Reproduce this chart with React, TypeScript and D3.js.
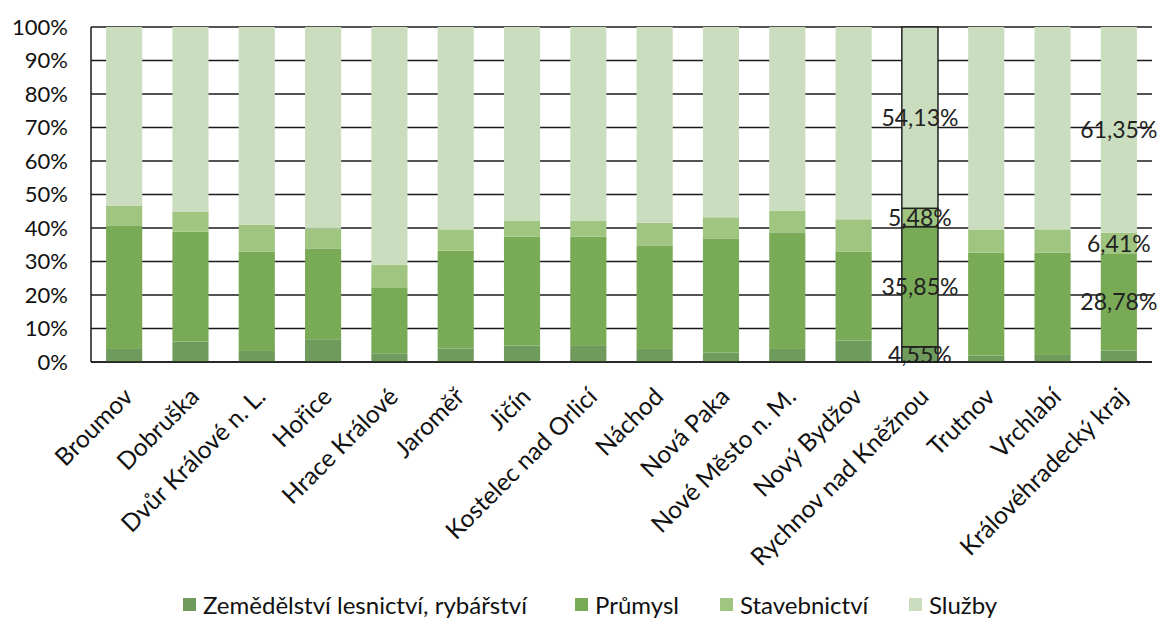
import React from "react";
import * as d3 from "d3";

const categories = [
  "Broumov", "Dobruška", "Dvůr Králové n. L.", "Hořice", "Hrace Králové", "Jaroměř",
  "Jičín", "Kostelec nad Orlicí", "Náchod", "Nová Paka", "Nové Město n. M.", "Nový Bydžov",
  "Rychnov nad Kněžnou", "Trutnov", "Vrchlabí", "Královéhradecký kraj",
];
const agriculture = [3.9, 6.1, 3.3, 6.8, 2.6, 4.0, 4.9, 4.8, 3.9, 2.8, 3.9, 6.4, 4.55, 1.9, 2.1, 3.46];
const industry = [36.9, 32.8, 29.6, 27.1, 19.7, 29.2, 32.5, 32.6, 30.9, 34.1, 34.8, 26.6, 35.85, 30.7, 30.5, 28.78];
const construction = [5.8, 5.9, 8.1, 5.9, 6.7, 6.4, 4.8, 4.7, 6.8, 6.3, 6.5, 9.6, 5.48, 6.8, 7.0, 6.41];
const services = [53.4, 55.2, 59.0, 60.2, 71.0, 60.4, 57.8, 57.9, 58.4, 56.8, 54.8, 57.4, 54.13, 60.6, 60.4, 61.35];
const seriesNames = ["Zemědělství lesnictví, rybářství", "Průmysl", "Stavebnictví", "Služby"];
const seriesColors = ["#6f9b5c", "#79aa56", "#9fc580", "#cbddbf"];
const yTicks = [0, 10, 20, 30, 40, 50, 60, 70, 80, 90, 100];
// which bars carry data labels (index -> series indices labelled)
const labelledBars: Record<number, number[]> = { 12: [0, 1, 2, 3], 15: [1, 2, 3] };
const highlighted = 12;

const W = 1158, H = 624;
const left = 91, right = 1152, top = 27, bottom = 362;
const font = "Lato, 'Open Sans', sans-serif";

export default function App() {
  const x = d3.scaleBand<string>().domain(categories).range([left, right]).paddingInner(0.455).paddingOuter(0.2275);
  const y = d3.scaleLinear().domain([0, 100]).range([bottom, top]);
  const rows = categories.map((c, i) => ({
    cat: c, s0: agriculture[i], s1: industry[i], s2: construction[i], s3: services[i],
  }));
  const stack = d3.stack<any>().keys(["s0", "s1", "s2", "s3"]);
  const stacked = stack(rows);
  const fmt = (v: number) => v.toFixed(2).replace(".", ",") + "%";

  const legendX = [183, 575, 720, 909];

  return (
    <svg width={W} height={H} style={{ position: "absolute", left: 0, top: 0, background: "#fff" }}>
      {yTicks.map((t) => (
        <g key={t}>
          <line x1={left} x2={right} y1={y(t)} y2={y(t)} stroke="#1a1a1a" strokeWidth={1.5} />
          <text x={68} y={y(t)} dy="0.36em" textAnchor="end" fontFamily={font} fontSize={22} fill="#111">
            {t}%
          </text>
        </g>
      ))}
      <line x1={left} x2={left} y1={top} y2={bottom} stroke="#1a1a1a" strokeWidth={1.5} />
      {stacked.map((layer, si) => (
        <g key={si}>
          {layer.map((d, i) => (
            <rect
              key={i}
              x={x(categories[i])}
              width={x.bandwidth()}
              y={y(d[1])}
              height={y(d[0]) - y(d[1])}
              fill={seriesColors[si]}
              stroke={i === highlighted ? "#222" : "none"}
              strokeWidth={i === highlighted ? 1.5 : 0}
            />
          ))}
        </g>
      ))}
      {stacked.map((layer, si) =>
        layer.map((d, i) =>
          labelledBars[i] && labelledBars[i].includes(si) ? (
            <text
              key={`l${si}-${i}`}
              x={(x(categories[i]) as number) + x.bandwidth() / 2}
              y={(y(d[0]) + y(d[1])) / 2}
              dy="0.36em"
              textAnchor="middle"
              fontFamily={font}
              fontSize={23}
              fill="#222"
            >
              {fmt(d[1] - d[0])}
            </text>
          ) : null
        )
      )}
      <line x1={left} x2={right} y1={bottom} y2={bottom} stroke="#1a1a1a" strokeWidth={1.5} />
      {categories.map((c) => {
        const cx = (x(c) as number) + x.bandwidth() / 2 + 4;
        return (
          <text
            key={c}
            transform={`translate(${cx},${bottom + 30}) rotate(-45)`}
            textAnchor="end"
            dy="0.36em"
            fontFamily={font}
            fontSize={24.5}
            fill="#111"
          >
            {c}
          </text>
        );
      })}
      {seriesNames.map((n, i) => (
        <g key={n}>
          <rect x={legendX[i]} y={598} width={13} height={13} fill={seriesColors[i]} />
          <text x={legendX[i] + 20} y={605} dy="0.36em" fontFamily={font} fontSize={24} fill="#111">
            {n}
          </text>
        </g>
      ))}
    </svg>
  );
}
